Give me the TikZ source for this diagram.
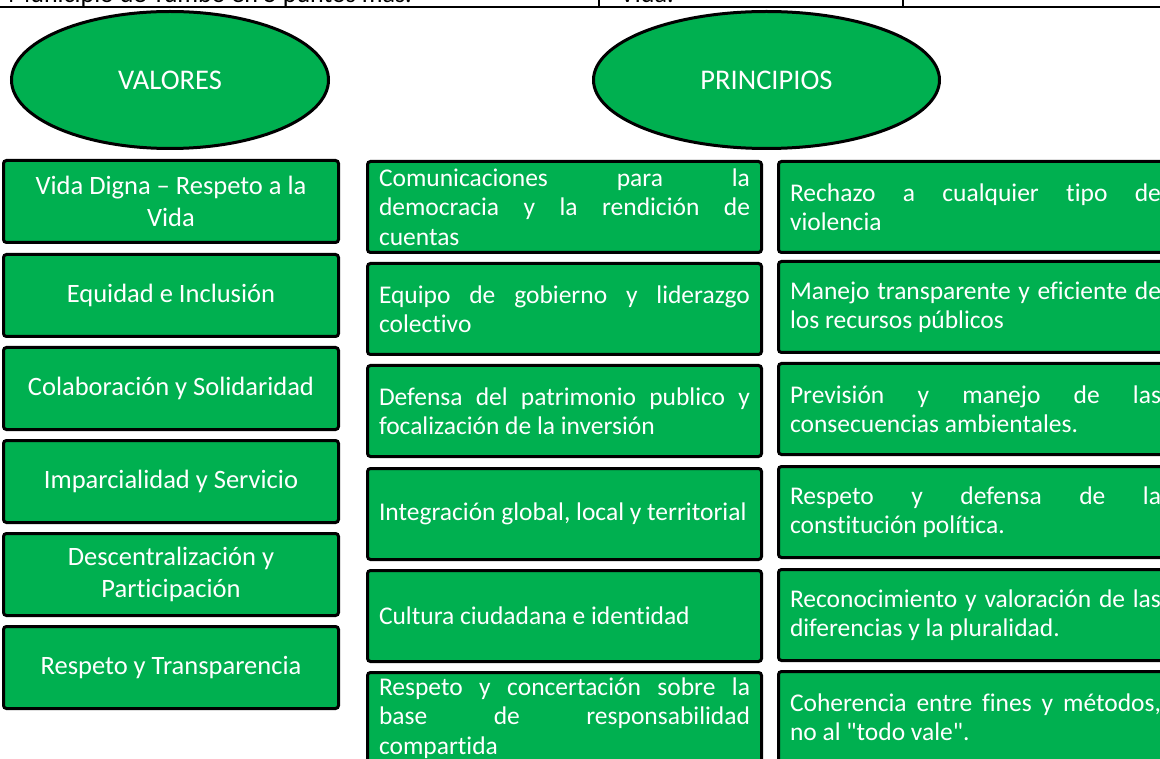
\documentclass[tikz,border=0pt]{standalone}
\usepackage{fontspec}
\setmainfont{Carlito}[Ligatures={TeX,NoCommon}]
\usetikzlibrary{shapes.geometric}
\definecolor{offgreen}{RGB}{0,176,80}
\newlength\tw
\setlength\tw{371pt}
\newcommand\jl[1]{\makebox[\tw][s]{#1}}
\newcommand\lastl[1]{\makebox[\tw][l]{#1}}
\begin{document}
\begin{tikzpicture}[x=1pt,y=-1pt,
  oval/.style={ellipse, draw=black, line width=3pt, fill=offgreen, text=white,
    font=\fontsize{28.5}{32}\selectfont, inner sep=0pt},
  valbox/.style={rectangle, rounded corners=3pt, draw=black, line width=3pt,
    fill=offgreen, text=white, minimum width=335pt, minimum height=82pt,
    align=center, font=\fontsize{26.5}{32}\selectfont, inner sep=0pt},
  prbox/.style={rectangle, rounded corners=3pt, draw=black, line width=3pt,
    fill=offgreen, text=white, minimum width=394pt, minimum height=91pt,
    align=left, font=\fontsize{25.5}{29.5}\selectfont, inner sep=0pt},
  hdr/.style={anchor=base west, inner sep=0pt, font=\fontsize{26}{30}\selectfont},
  rule/.style={line width=1.5pt}
]
\useasboundingbox (0,0) rectangle (1160,759);

% fragment of the table above
\draw[rule] (0,7) -- (1160,7);
\draw[rule] (599,0) -- (599,7);
\draw[rule] (903,0) -- (903,7);
\node[hdr] (hdrA) at (8,2.5) {Municipio de Yumbo en 5 puntos más.};
\node[hdr] (hdrB) at (620,2.5) {Vida.};

% headings
\node[oval, minimum width=317pt, minimum height=137pt] (valores) at (170,80) {VALORES};
\node[oval, minimum width=346pt, minimum height=137pt] (principios) at (766.5,80) {PRINCIPIOS};

% valores column
\node[valbox] (v1) at (171,201.5) {Vida Digna – Respeto a la\\Vida};
\node[valbox] (v2) at (171,295.5) {Equidad e Inclusión};
\node[valbox] (v3) at (171,388.5) {Colaboración y Solidaridad};
\node[valbox] (v4) at (171,481.5) {Imparcialidad y Servicio};
\node[valbox] (v5) at (171,574.5) {Descentralización y\\Participación};
\node[valbox] (v6) at (171,667.5) {Respeto y Transparencia};

% principios, first column
\node[prbox] (p1) at (564.5,207) {\jl{Comunicaciones para la}\\\jl{democracia y la rendición de}\\\lastl{cuentas}};
\node[prbox] (p2) at (564.5,309) {\jl{Equipo de gobierno y liderazgo}\\\lastl{colectivo}};
\node[prbox] (p3) at (564.5,411) {\jl{Defensa del patrimonio publico y}\\\lastl{focalización de la inversión}};
\node[prbox] (p4) at (564.5,514) {\lastl{Integración global, local y territorial}};
\node[prbox] (p5) at (564.5,616) {\lastl{Cultura ciudadana e identidad}};
\node[prbox] (p6) at (564.5,718) {\jl{Respeto y concertación sobre la}\\\jl{base de responsabilidad}\\\lastl{compartida}};

% principios, second column
\node[prbox] (q1) at (975.5,207) {\jl{Rechazo a cualquier tipo de}\\\lastl{violencia}};
\node[prbox] (q2) at (975.5,307) {\jl{Manejo transparente y eficiente de}\\\lastl{los recursos públicos}};
\node[prbox] (q3) at (975.5,409) {\jl{Previsión y manejo de las}\\\lastl{consecuencias ambientales.}};
\node[prbox] (q4) at (975.5,512) {\jl{Respeto y defensa de la}\\\lastl{constitución política.}};
\node[prbox] (q5) at (975.5,615) {\jl{Reconocimiento y valoración de las}\\\lastl{diferencias y la pluralidad.}};
\node[prbox] (q6) at (975.5,717) {\jl{Coherencia entre fines y métodos,}\\\lastl{no al \textquotedbl todo vale\textquotedbl.}};
\end{tikzpicture}
\end{document}
